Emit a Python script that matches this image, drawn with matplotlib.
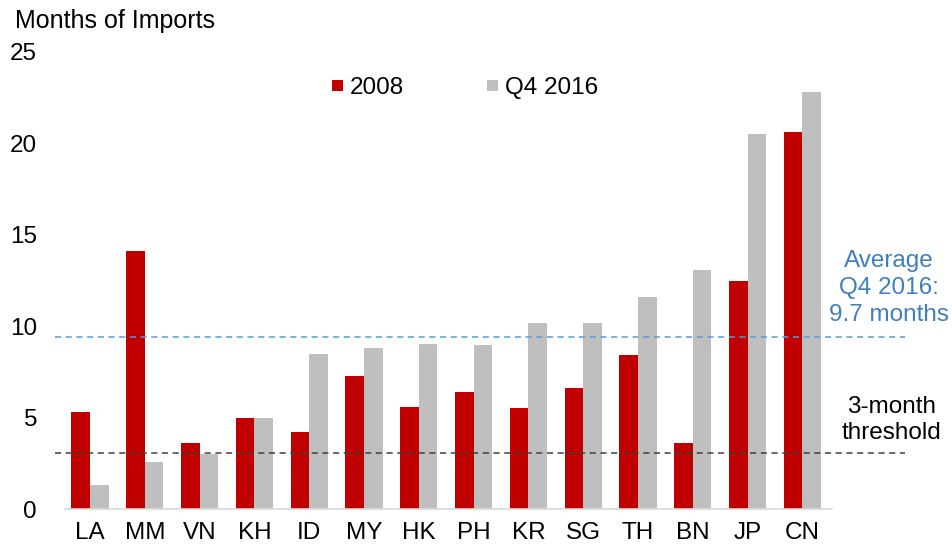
import matplotlib.pyplot as plt
import numpy as np

plt.rcParams['font.family'] = ['Liberation Sans', 'DejaVu Sans']

countries = ['LA', 'MM', 'VN', 'KH', 'ID', 'MY', 'HK', 'PH', 'KR', 'SG', 'TH', 'BN', 'JP', 'CN']
y2008 = [5.3, 14.1, 3.6, 5.0, 4.2, 7.3, 5.6, 6.4, 5.5, 6.6, 8.4, 3.6, 12.5, 20.6]
y2016 = [1.3, 2.55, 3.0, 5.0, 8.5, 8.8, 9.0, 8.95, 10.2, 10.2, 11.6, 13.1, 20.5, 22.8]
avg_line = 9.4
threshold = 3.05

fs = 17.5

fig = plt.figure(figsize=(9.53, 5.5), dpi=100)
ax = fig.add_axes([0.068, 0.0745, 0.805, 0.831])

x = np.arange(len(countries))
w = 0.34
ax.bar(x - w / 2, y2008, w, color='#C00000', label='2008')
ax.bar(x + w / 2, y2016, w, color='#BFBFBF', label='Q4 2016')

ax.set_xlim(-0.46, 13.54)
ax.set_ylim(0, 25)
ax.set_yticks([0, 5, 10, 15, 20, 25])
ax.set_xticks(x)
ax.set_xticklabels(countries)
ax.tick_params(axis='both', length=0, labelsize=fs)
ax.tick_params(axis='y', pad=20)
ax.tick_params(axis='x', pad=9)
for s in ['top', 'right', 'left']:
    ax.spines[s].set_visible(False)
ax.spines['bottom'].set_color('#D9D9D9')
ax.spines['bottom'].set_linewidth(1.2)

# reference lines run past the plot area
ax.plot([-0.64, 14.87], [avg_line, avg_line], ls=(0, (4, 3)), color='#5B9BD5',
        lw=1.1, clip_on=False)
ax.plot([-0.64, 14.87], [threshold, threshold], ls=(0, (4, 3)), color='#404040',
        lw=1.1, clip_on=False)

ax.text(14.58, 12.09, 'Average\nQ4 2016:\n9.7 months', color='#3F7FBF', fontsize=fs,
        ha='center', va='center', linespacing=1.3)
ax.text(14.63, 4.87, '3-month\nthreshold', color='black', fontsize=fs,
        ha='center', va='center', linespacing=1.19)

fig.text(0.016, 0.962, 'Months of Imports', fontsize=18, va='center')

ax.legend(loc='center', bbox_to_anchor=(0.5215, 0.921), ncol=2, frameon=False,
          fontsize=fs, handlelength=0.45, handleheight=0.315, columnspacing=3.4,
          handletextpad=0.3, borderaxespad=0)

fig.savefig('out.png', dpi=100)
